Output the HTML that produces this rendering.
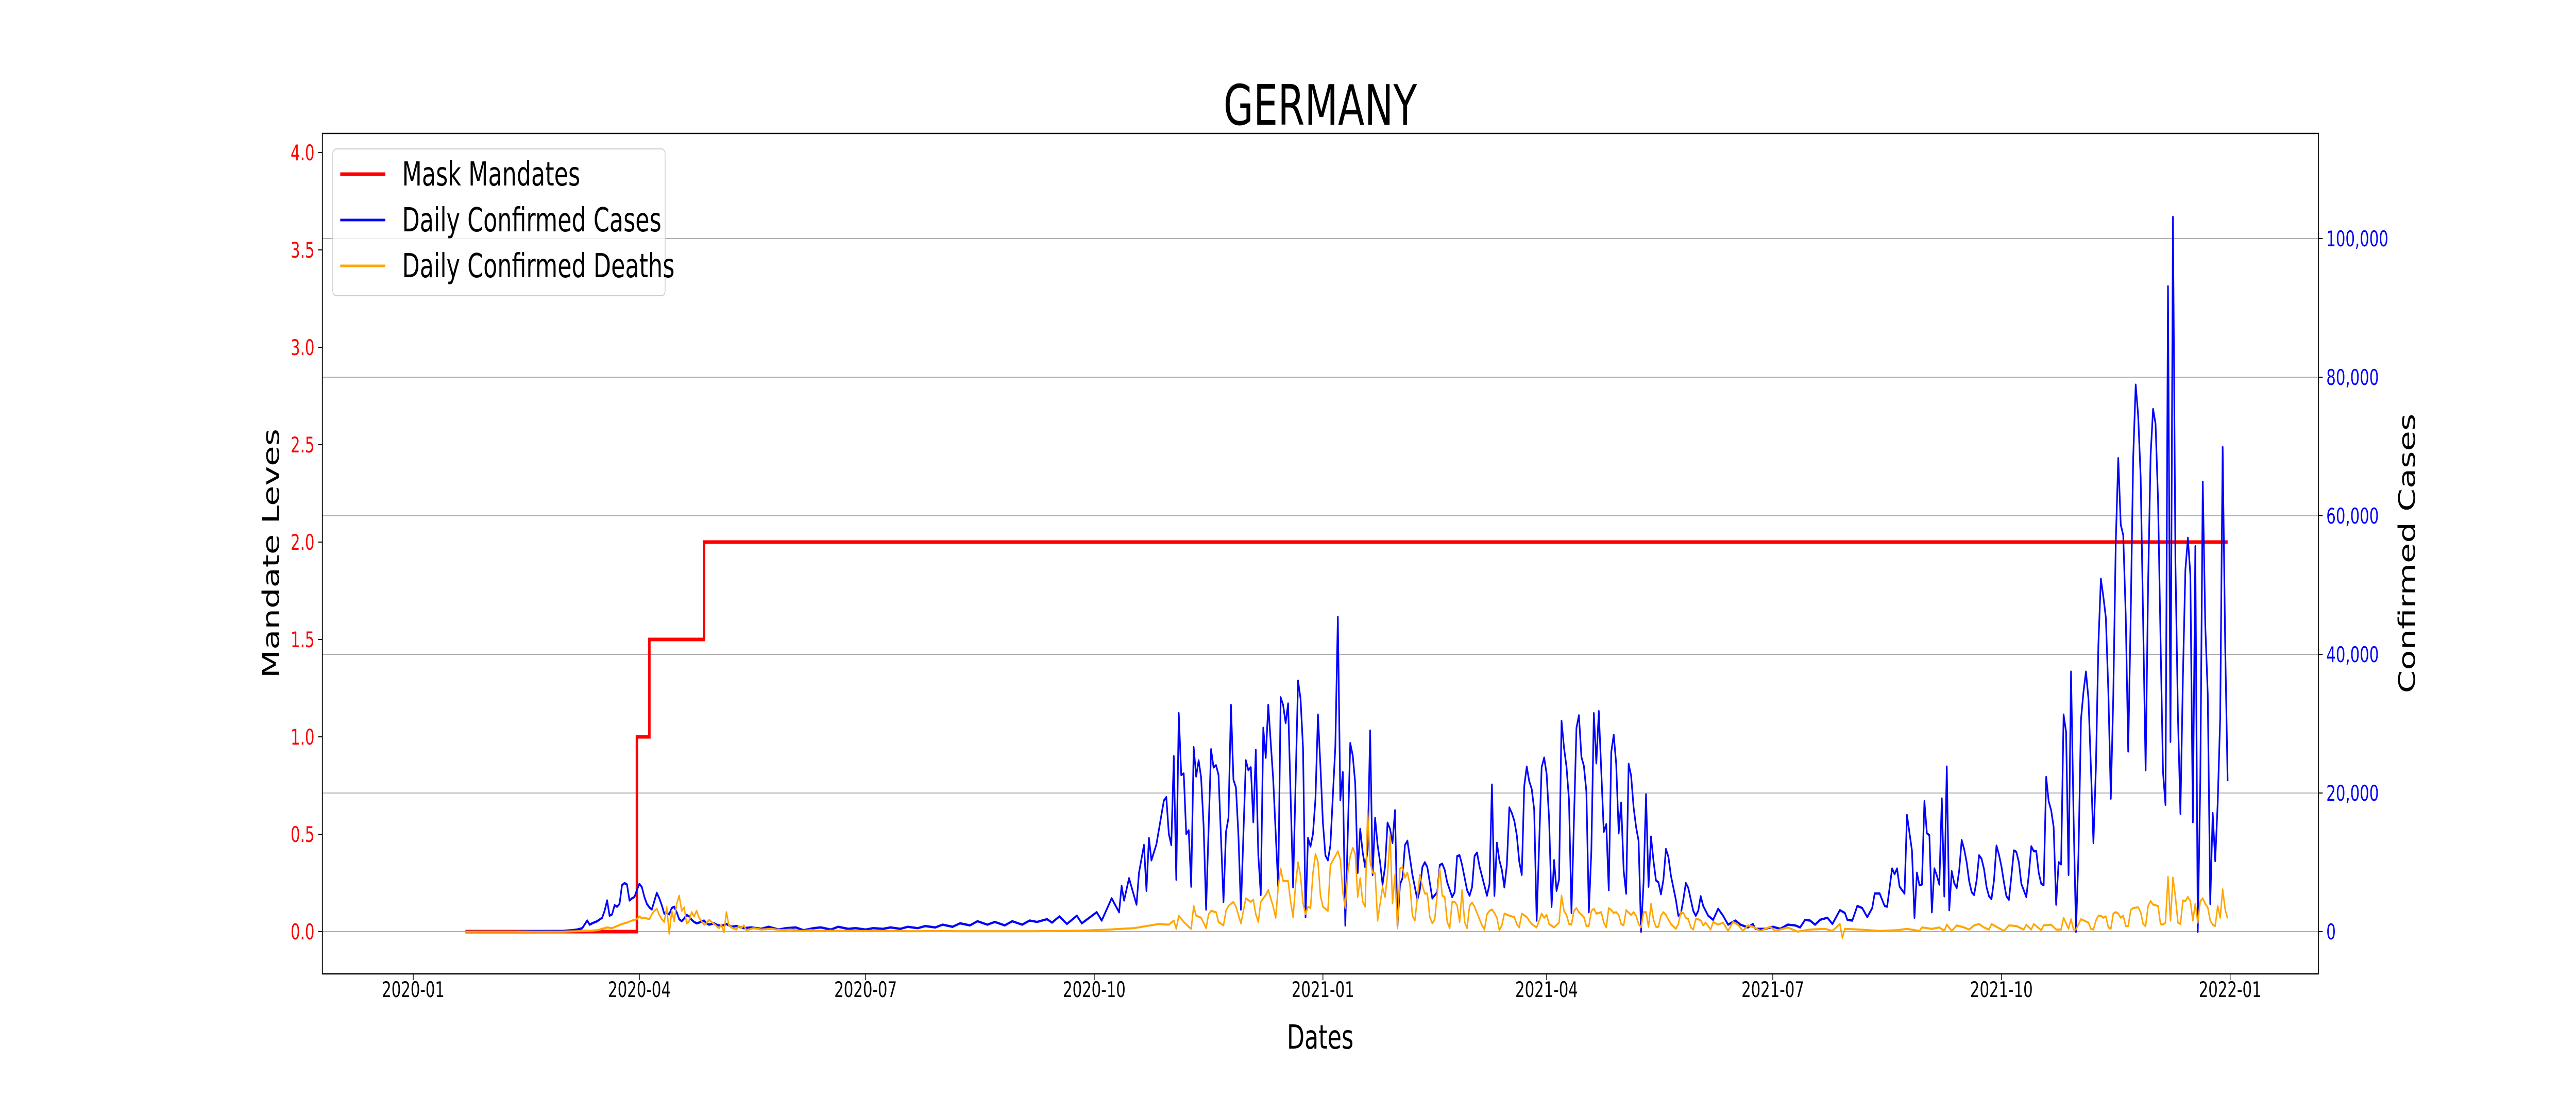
<!DOCTYPE html>
<html><head><meta charset="utf-8"><title>Germany</title>
<style>html,body{margin:0;padding:0;background:#fff;width:100%;height:100%;overflow:hidden;}svg{display:block;position:absolute;left:0;top:0;width:100vw;height:100vh;}</style></head>
<body>
<svg id="chart" viewBox="0 0 7200 2160" preserveAspectRatio="none" xmlns="http://www.w3.org/2000/svg" font-family="'DejaVu Sans','Liberation Sans',sans-serif">
<rect width="7200" height="2160" fill="#fff"/>
<g id="grid"></g>
<g id="series"></g>
<g id="axes"></g>
<text x="3690" y="242" font-size="108" text-anchor="middle">GERMANY</text>
<text x="3690" y="2035" font-size="64" text-anchor="middle">Dates</text>
<text x="0" y="0" font-size="64" text-anchor="middle" transform="translate(780,1074) rotate(-90)">Mandate Leves</text>
<text x="0" y="0" font-size="64" text-anchor="middle" transform="translate(6750,1074) rotate(-90)">Confirmed Cases</text>
<g>
<rect x="930" y="289" width="929" height="285" rx="10" fill="#fff" fill-opacity="0.8" stroke="#cccccc" stroke-width="2"/>
<line x1="951" y1="338" x2="1077" y2="338" stroke="#ff0000" stroke-width="7"/>
<text x="1124" y="360" font-size="64">Mask Mandates</text>
<line x1="951" y1="427" x2="1077" y2="427" stroke="#0000ff" stroke-width="5"/>
<text x="1124" y="449" font-size="64">Daily Confirmed Cases</text>
<line x1="951" y1="516" x2="1077" y2="516" stroke="#ffa500" stroke-width="5"/>
<text x="1124" y="538" font-size="64">Daily Confirmed Deaths</text>
</g>
</svg>
<script>
// ---- data (day offsets from 2020-01-01) ----
const xTickDays = [0, 91, 182, 274, 366, 456, 547, 639, 731];
const xTickLabels = ["2020-01","2020-04","2020-07","2020-10","2021-01","2021-04","2021-07","2021-10","2022-01"];
const leftTicks = [0, 0.5, 1, 1.5, 2, 2.5, 3, 3.5, 4];
const rightTicks = [0, 20000, 40000, 60000, 80000, 100000];
const mandateDays = [21, 90, 95, 117, 730];
const mandateVals = [0, 1.0, 1.5, 2.0, 2.0];
const casesDays = [21,40,55,60,64,66,68,70,71,72,74,76,77,78,79,80,81,82,83,84,85,86,87,88,89,90,91,92,93,94,95,96,97,98,99,100,101,102,103,104,105,106,107,108,109,110,111,112,113,114,115,117,118,119,121,122,124,126,128,130,133,136,140,143,147,150,154,157,161,164,168,171,175,178,182,185,189,192,196,199,203,206,210,213,217,220,224,227,231,234,238,241,245,248,251,255,257,260,263,267,269,275,277,281,284,285,286,288,291,292,294,295,296,297,299,302,303,304,305,306,307,308,309,310,311,312,313,314,315,316,317,318,319,321,322,323,324,326,327,328,329,330,331,332,333,335,336,337,338,339,340,341,342,343,344,346,348,349,350,351,352,354,356,357,358,359,360,361,362,363,364,365,366,367,368,369,371,372,373,374,375,377,378,379,380,381,382,383,384,385,386,387,388,389,390,391,392,393,394,395,396,397,398,399,400,402,404,405,406,407,408,410,412,413,414,415,416,418,419,420,421,422,424,425,426,427,428,429,431,432,433,434,435,436,437,438,439,440,441,442,443,444,445,446,447,448,449,450,451,452,454,455,456,457,458,459,460,461,462,463,464,465,466,468,469,470,471,472,473,474,475,476,477,479,480,481,482,483,484,485,486,487,488,489,490,491,492,493,494,495,496,497,498,499,500,501,502,503,504,505,506,508,509,510,511,512,513,515,516,517,518,519,521,523,525,527,529,532,534,537,539,540,544,547,550,553,556,558,560,562,564,566,569,571,574,576,577,579,581,583,585,587,588,590,592,593,595,596,597,598,600,601,603,604,605,606,607,608,609,610,611,612,613,614,615,616,617,618,619,620,621,622,623,624,625,626,627,628,629,630,631,632,633,634,635,636,637,638,639,640,641,642,643,644,645,646,647,649,650,651,652,653,654,655,656,657,658,659,660,661,662,663,664,665,666,667,668,669,670,671,672,673,674,675,676,677,678,679,680,681,682,683,684,685,686,687,688,689,690,691,692,693,694,695,696,697,698,699,700,701,702,703,704,705,706,707,708,709,710,711,712,713,714,715,716,717,718,719,720,721,722,723,724,725,726,727,728,729,730];
const casesK = [0,0,0.1,0.1,0.2,0.3,0.5,1.6,1.0,1.2,1.5,2.0,3.0,4.5,2.3,2.5,3.8,3.6,4.0,6.7,7.0,6.8,4.5,4.8,5.0,6.0,6.9,6.4,5.0,4.0,3.5,3.2,4.4,5.6,4.8,3.8,2.6,2.7,2.5,3.4,3.6,2.8,1.8,1.5,1.9,2.4,2.2,1.7,1.4,1.2,1.3,1.6,1.2,1.0,1.2,1.0,0.8,1.1,0.7,0.8,0.5,0.6,0.4,0.7,0.3,0.5,0.6,0.2,0.5,0.6,0.3,0.7,0.4,0.5,0.3,0.5,0.4,0.6,0.4,0.7,0.5,0.8,0.6,1.0,0.7,1.2,0.9,1.5,1.0,1.4,0.9,1.5,1.0,1.6,1.4,1.8,1.3,2.2,1.1,2.3,1.2,2.8,1.6,4.8,2.8,6.6,4.5,7.7,3.9,8.5,12.5,5.9,13.5,10.3,12.6,18.9,19.4,14.1,12.5,25.3,7.5,31.5,22.6,22.8,14.1,14.6,6.5,26.6,22.4,24.7,22.2,15.3,3.2,26.3,23.7,24.0,22.6,4.3,14.4,16.4,32.7,21.9,20.8,13.9,3.2,24.7,23.3,23.7,15.8,26.2,11.0,5.3,29.4,25.1,32.7,21.9,6.4,33.8,32.7,30.1,32.9,6.4,36.2,33.6,26.5,2.1,13.5,12.3,14.1,19.2,31.3,23.8,15.7,11.0,10.3,12.4,26.7,45.4,19.0,23.0,0.9,27.2,25.4,21.4,8.5,14.8,11.4,9.3,11.7,29.0,8.2,16.4,12.5,10.0,6.8,9.4,15.7,14.8,12.8,17.5,0.7,6.8,7.7,12.5,13.1,8.2,4.6,6.0,9.3,10.0,9.3,4.8,5.7,9.6,9.8,8.9,7.1,5.0,5.7,10.9,11.0,9.6,6.0,5.2,6.4,10.9,11.4,9.4,6.6,5.2,6.8,21.2,5.2,12.8,10.3,8.9,6.4,9.6,17.9,17.1,16.0,13.9,10.1,8.2,21.0,23.8,21.7,20.6,17.6,1.6,23.7,25.1,22.8,16.2,3.6,10.3,5.9,7.5,30.4,26.5,23.8,19.0,2.7,29.4,31.2,25.2,23.9,20.2,2.8,11.7,31.5,24.3,31.8,14.4,15.5,6.0,25.9,28.4,24.2,14.2,18.6,8.8,5.5,24.2,22.5,17.9,15.1,13.1,0,7.1,19.8,6.5,13.7,10.2,7.4,7.1,5.4,7.5,11.9,10.8,8.1,4.6,2.3,2.6,4.6,7.0,6.3,3.0,2.3,3.0,5.1,3.7,2.3,1.7,3.3,2.3,1.0,1.6,1.0,0.6,1.1,0.4,0.4,0.7,0.4,1.0,0.9,0.6,1.7,1.6,1.0,1.7,2.0,1.1,3.1,2.7,1.7,1.6,3.7,3.4,2.1,3.4,5.5,5.5,3.7,3.6,9.1,8.3,9.1,6.5,5.5,16.8,11.7,2.0,8.5,6.7,6.8,18.8,14.2,13.9,2.8,9.1,8.1,6.8,19.2,5.1,23.8,3.1,8.7,7.0,6.3,8.8,13.2,11.9,10.0,7.3,5.7,5.3,7.4,11.0,10.5,9.0,6.4,5.1,4.7,7.4,12.4,11.1,9.4,7.1,5.1,4.6,8.0,11.7,11.5,10.0,6.9,5.0,8.2,12.3,11.6,11.6,8.5,6.9,6.7,22.3,18.8,17.5,15.1,3.9,10.0,9.7,31.3,28.8,8.2,37.5,16.8,0,11.3,30.6,34.6,37.5,33.6,23.6,12.8,23.6,41.5,50.9,48.3,45.3,34.6,19.2,34.0,56.3,68.3,58.7,57.2,45.6,26.0,45.6,68.3,78.9,74.5,65.6,44.9,23.3,50.1,68.7,75.4,73.3,62.2,42.3,23.0,18.3,93.1,27.4,103.1,53.2,31.2,17.0,36.7,52.2,56.8,51.5,15.8,55.6,0,21.9,64.9,44.2,34.3,4.0,17.1,10.2,18.5,30.9,69.9,41.5,21.7];
const deathsDays = [21,60,66,70,74,76,78,80,82,84,86,88,90,91,92,93,95,96,97,98,99,100,101,102,103,104,105,106,107,108,109,110,111,112,113,114,115,116,117,118,119,120,121,122,123,124,125,126,127,128,130,131,132,133,134,137,140,144,148,152,156,160,165,170,180,190,200,210,220,230,240,250,260,270,280,290,295,300,304,306,307,308,310,312,313,314,315,317,319,320,321,323,324,326,327,328,330,331,333,335,337,338,339,340,341,343,344,346,347,348,349,350,352,353,354,355,356,357,358,359,360,361,362,363,364,365,366,368,369,371,372,373,374,375,376,377,378,379,380,381,382,383,384,385,386,387,388,390,391,392,393,394,395,396,397,398,399,400,401,402,403,405,406,407,408,409,410,411,413,414,415,416,417,418,419,420,421,422,423,424,425,426,427,428,430,431,432,433,434,435,436,437,438,439,441,443,444,445,446,448,450,452,454,455,456,457,459,461,462,463,464,465,466,467,468,469,471,472,473,474,475,476,478,479,480,481,482,483,484,485,486,487,488,490,491,492,493,494,495,496,497,498,499,500,501,502,503,504,506,508,509,510,511,512,513,514,515,516,517,518,519,520,522,523,525,527,529,531,533,535,537,539,542,546,548,553,557,562,568,571,574,575,576,582,590,597,601,606,607,611,614,616,617,619,621,624,626,628,630,632,634,635,637,640,642,645,648,649,651,652,655,656,659,661,663,664,666,667,668,669,671,674,675,676,677,678,679,680,681,682,683,684,685,686,687,688,689,690,691,692,694,695,696,697,698,699,700,702,703,704,705,706,707,708,709,710,711,712,713,714,715,716,717,718,719,720,721,722,723,724,725,726,727,728,729,730];
const deathsK = [0,0,0.05,0.1,0.2,0.4,0.6,0.5,0.8,1.1,1.3,1.6,1.8,2.2,1.9,2.0,1.8,2.5,3.0,3.3,2.4,1.8,1.4,3.5,-0.3,3.0,1.5,4.0,5.2,3.0,3.5,1.2,1.5,2.8,2.2,3.0,2.0,1.5,1.0,1.2,1.7,1.4,1.1,0.8,0.5,1.0,-0.1,2.8,0.9,0.6,0.3,0.8,0.5,0.9,0.2,0.5,0.3,0.4,0.2,0.3,0.1,0.2,0.1,0.15,0.1,0.1,0.05,0.08,0.05,0.06,0.05,0.05,0.1,0.15,0.3,0.5,0.8,1.1,1.0,1.6,0.4,2.3,1.4,0.7,0.4,3.7,2.3,2.0,0.5,2.5,3.0,2.8,1.4,0.9,3.0,3.7,4.3,3.6,1.2,4.8,4.3,4.6,2.5,1.4,4.3,5.3,6.0,3.6,2.0,6.4,9.1,7.3,7.3,4.3,2.1,6.8,10.0,8.0,4.1,2.5,3.6,3.4,8.5,11.2,10.1,5.2,3.6,3.0,9.6,10.9,11.6,10.5,5.7,3.4,8.5,10.9,12.1,11.2,5.0,7.7,4.3,3.6,17.4,10.1,8.5,8.4,1.6,6.4,5.0,8.2,13.9,4.1,8.2,0.5,9.1,9.3,7.8,8.5,6.8,2.3,1.6,8.2,6.6,5.5,5.5,2.1,1.2,1.8,9.1,5.2,5.0,1.4,0.5,4.3,4.3,3.8,1.4,6.0,1.4,0.5,3.7,4.2,3.6,2.7,0.9,0.3,2.5,3.0,3.2,2.7,2.0,0.2,0.9,2.6,2.3,2.1,1.1,0.6,2.6,2.1,1.1,0.6,2.6,2.0,2.4,1.1,0.6,1.3,5.2,3.0,2.4,1.1,1.0,3.0,3.4,2.8,2.1,0.8,0.8,3.0,3.3,2.6,2.8,1.3,0.6,3.4,3.1,2.7,2.8,2.4,1.1,0.9,3.1,2.4,2.8,2.3,1.1,0.6,2.8,2.8,0.7,4.0,1.7,0.7,0.7,2.3,2.8,2.4,1.1,0.4,1.1,2.8,2.7,2.0,1.8,0.6,0.3,1.8,1.8,1.6,0.9,1.3,0.3,1.4,1.0,1.3,0.1,1.4,1.0,0.1,0.9,0.7,0.1,0.7,0.1,0.6,0,0.3,0.4,0.1,1.1,-0.9,0.4,0.3,0.1,0.2,0.4,0.1,0.6,0.4,0.6,0.1,1.0,0.1,0.9,0.6,0.3,0.9,1.1,0.6,0.3,1.1,0.7,0.1,0.9,0.8,0.3,1.0,0.3,1.1,0.2,0.9,1.0,0.3,0.3,2.0,0.4,1.8,0.3,0.3,1.8,1.3,0.4,0.3,1.6,2.3,2.3,2.0,2.2,0.6,0.4,2.6,2.8,2.6,2.0,2.3,0.8,0.8,3.1,3.4,3.5,2.8,1.1,0.8,3.7,4.4,3.9,3.7,1.1,1.0,1.3,7.9,1.6,7.8,5.0,1.3,1.1,4.5,4.4,5.0,4.4,1.6,4.0,1.3,4.4,4.8,4.0,3.5,1.6,1.0,0.8,3.7,2.0,6.1,3.2,1.9];

// ---- geometry ----
const L = 901, R = 6480, T = 259, B = 1890;
const x = d => 1155 + d * 6.947;
const yL = v => 1808 - v * 378;
const yR = v => 1808 - v * 13.45 / 1000;
const NS = "http://www.w3.org/2000/svg";
function mk(tag, attrs, parent) {
  const e = document.createElementNS(NS, tag);
  for (const k in attrs) e.setAttribute(k, attrs[k]);
  parent.appendChild(e);
  return e;
}
const grid = document.getElementById('grid');
const series = document.getElementById('series');
const axes = document.getElementById('axes');

rightTicks.forEach(v => {
  const g = mk('line', {x1: L, x2: R, y1: yR(v), y2: yR(v), stroke: '#b0b0b0', 'stroke-width': 2}, grid);
  
  
});

let mp = '';
mandateDays.forEach((d, i) => {
  if (i === 0) mp += 'M' + x(d) + ',' + yL(mandateVals[i]);
  else { mp += 'L' + x(d) + ',' + yL(mandateVals[i - 1]) + 'L' + x(d) + ',' + yL(mandateVals[i]); }
});
const mline = mk('path', {d: mp, fill: 'none', stroke: '#ff0000', 'stroke-width': 7}, series);



const cp = casesDays.map((d, i) => (i ? 'L' : 'M') + x(d).toFixed(1) + ',' + yR(casesK[i] * 1000).toFixed(1)).join('');
const cline = mk('path', {d: cp, fill: 'none', stroke: '#0000ff', 'stroke-width': 4.5, 'stroke-linejoin': 'round'}, series);



const dp = deathsDays.map((d, i) => (i ? 'L' : 'M') + x(d).toFixed(1) + ',' + yR(deathsK[i] * 1000).toFixed(1)).join('');
const dline = mk('path', {d: dp, fill: 'none', stroke: '#ffa500', 'stroke-width': 4, 'stroke-linejoin': 'round'}, series);



const frame = mk('rect', {x: L, y: T, width: R - L, height: B - T, fill: 'none', stroke: '#000', 'stroke-width': 2.5}, axes);



leftTicks.forEach(v => {
  const t = mk('line', {x1: L - 12, x2: L, y1: yL(v), y2: yL(v), stroke: '#000', 'stroke-width': 2}, axes);
  
  
  const lb = mk('text', {x: L - 22, y: yL(v) + 15, 'font-size': 42, fill: '#ff0000', 'text-anchor': 'end'}, axes);
  lb.textContent = v.toFixed(1);
  
  
});
rightTicks.forEach(v => {
  const t = mk('line', {x1: R, x2: R + 12, y1: yR(v), y2: yR(v), stroke: '#000', 'stroke-width': 2}, axes);
  
  
  const lb = mk('text', {x: R + 22, y: yR(v) + 15, 'font-size': 42, fill: '#0000ff'}, axes);
  lb.textContent = v.toLocaleString('en-US');
  
  
});
xTickDays.forEach((d, i) => {
  const t = mk('line', {x1: x(d), x2: x(d), y1: B, y2: B + 12, stroke: '#000', 'stroke-width': 2}, axes);
  
  
  const lb = mk('text', {x: x(d), y: B + 45, 'font-size': 42, fill: '#000', 'text-anchor': 'middle'}, axes);
  lb.textContent = xTickLabels[i];
  
  
});
</script>
</body></html>
